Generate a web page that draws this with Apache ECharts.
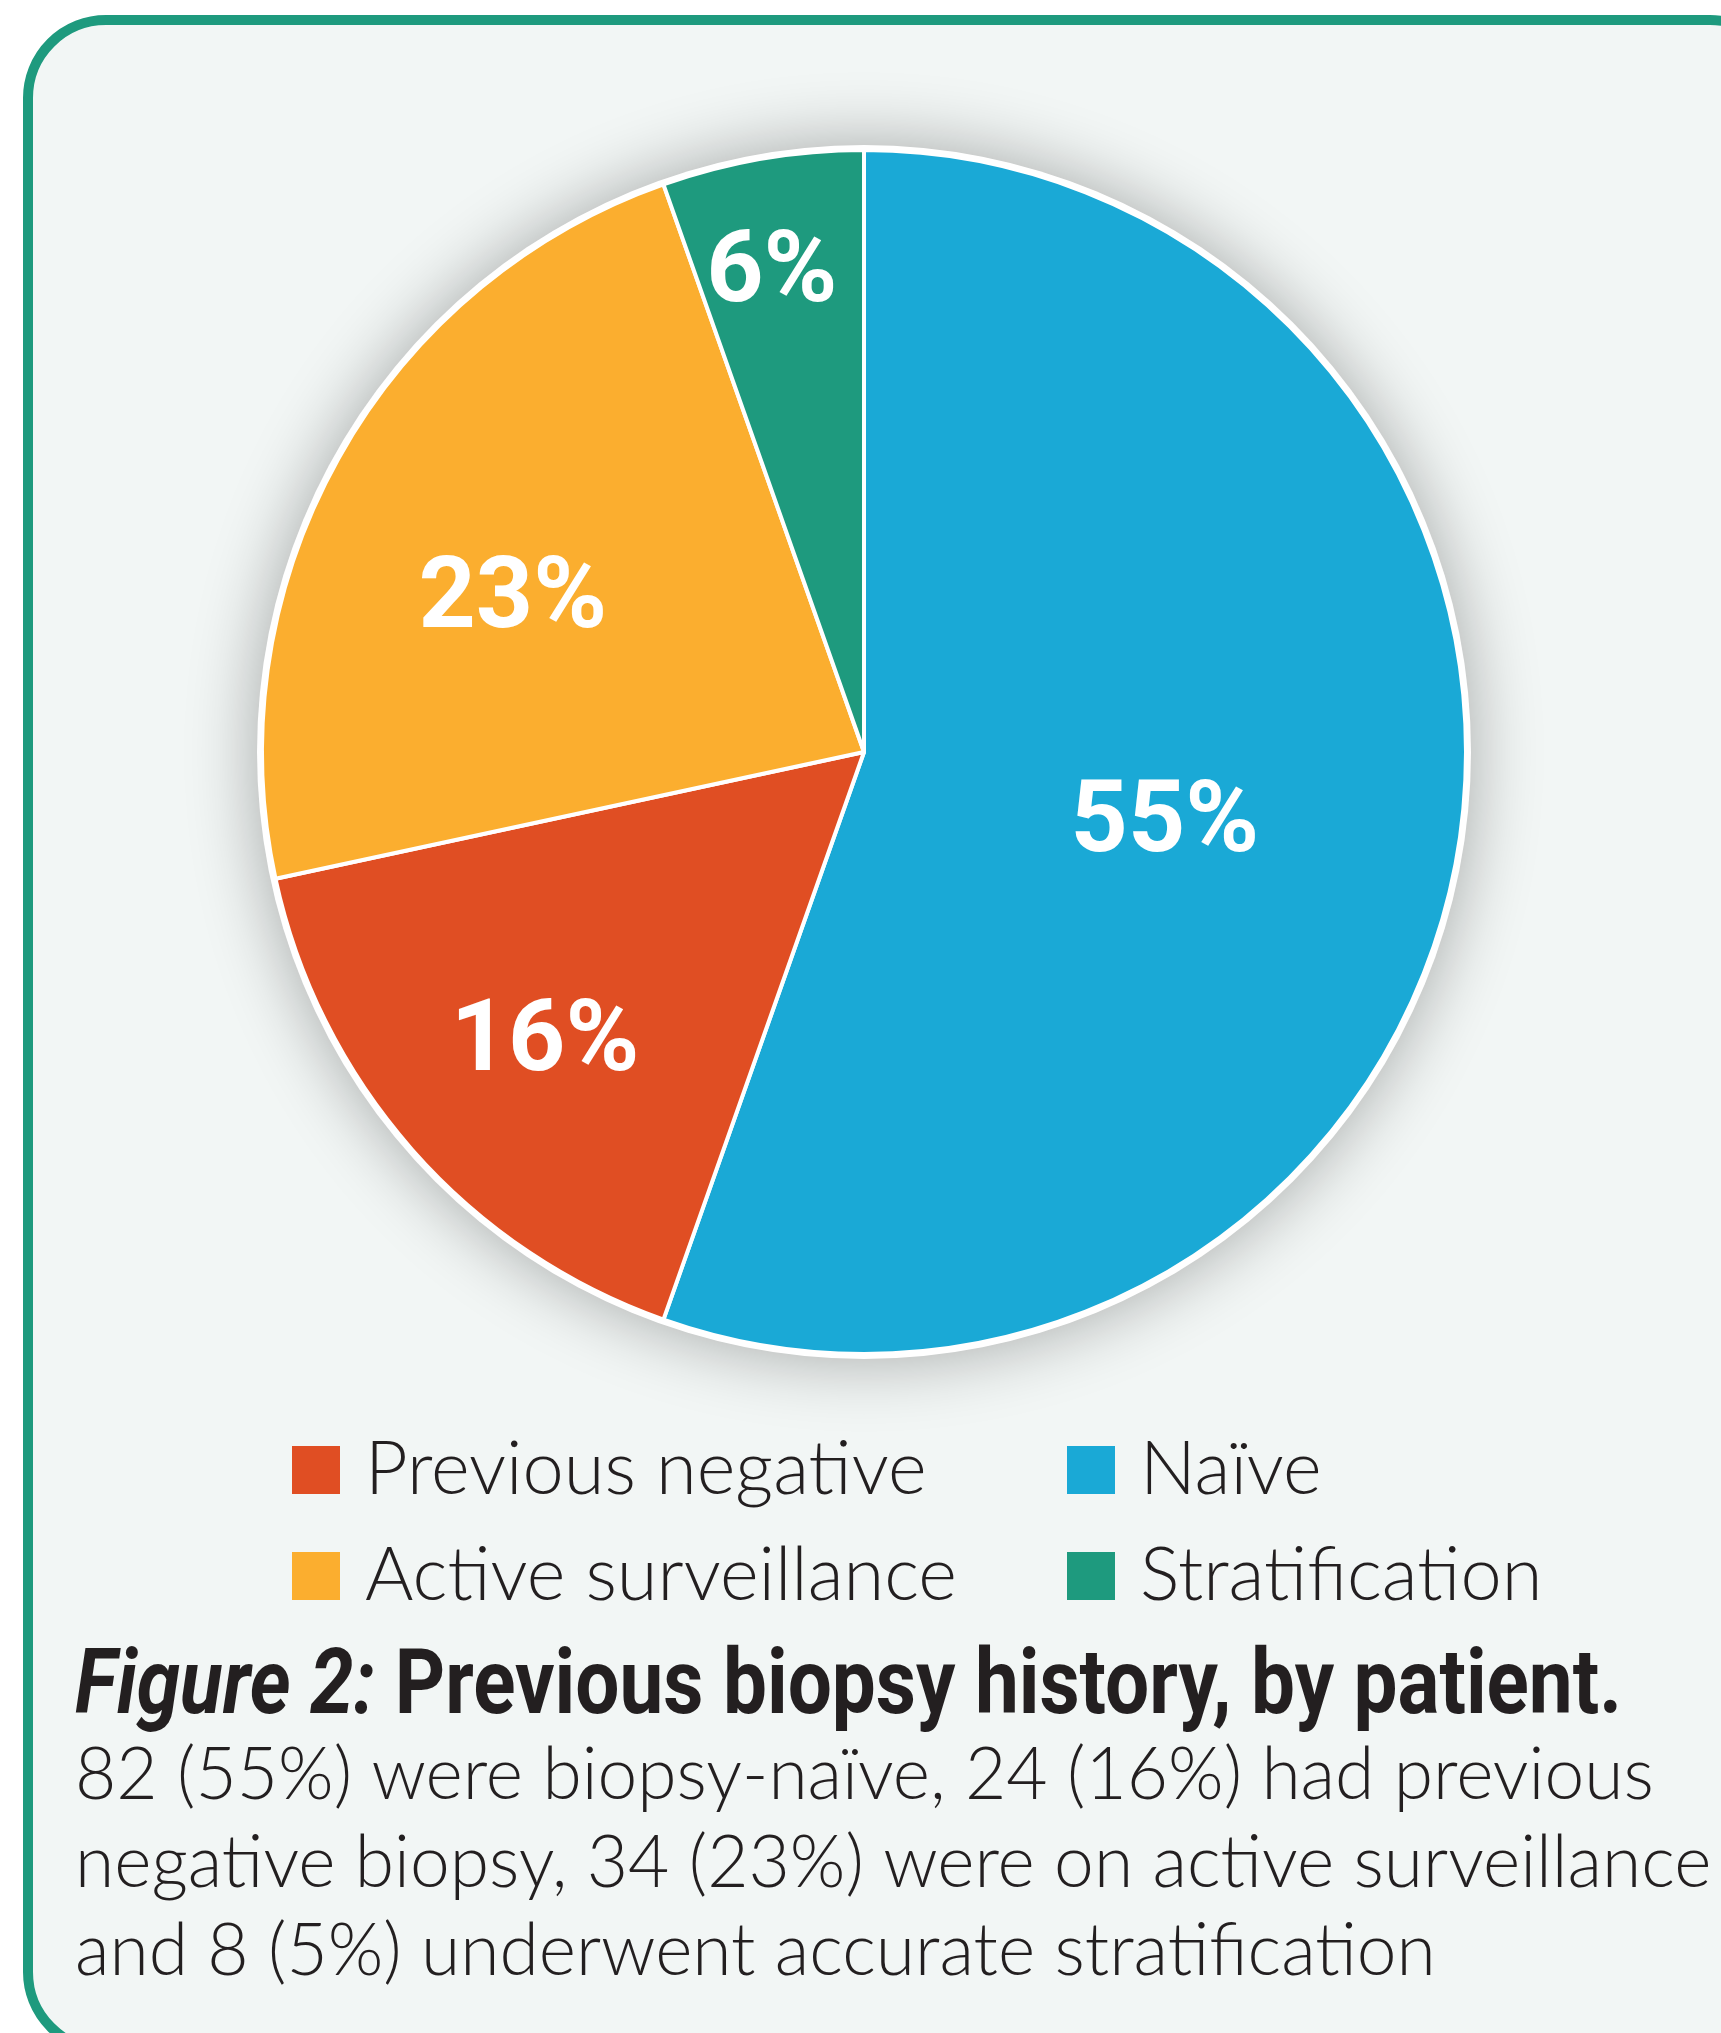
<!DOCTYPE html>
<html>
<head>
<meta charset="utf-8">
<script src="https://cdn.jsdelivr.net/npm/echarts@6/dist/echarts.min.js"></script>
<style>
  html, body { margin: 0; padding: 0; background: #ffffff; }
  #chart { width: 1721px; height: 2033px; }
</style>
</head>
<body>
<div id="chart"></div>
<script>
// slices, clockwise from 12 o'clock
const categories = ['Naïve', 'Previous negative', 'Active surveillance', 'Stratification']
const patientCounts = [82, 24, 34, 8]
const sliceLabels = ['55%', '16%', '23%', '6%']
const sliceColors = ['#1AA9D6', '#E04E23', '#FBAE2F', '#1E9A7E']

// legend is laid out as two columns
const legendLeftColumn = ['Previous negative', 'Active surveillance']
const legendRightColumn = ['Naïve', 'Stratification']

const titleItalic = 'Figure 2:'
const titleBold = 'Previous biopsy history, by patient.'
const captionLines = [
  '82 (55%) were biopsy-naïve, 24 (16%) had previous',
  'negative biopsy, 34 (23%) were on active surveillance',
  'and 8 (5%) underwent accurate stratification'
]

const CX = 864
const CY = 752
const R = 602
// where each label sits: fraction of radius, and degrees off the slice's middle
const labelRadius = [0.511, 0.708, 0.641, 0.822]
const labelAngleShift = [2.3, -0.2, -4.7, -1.0]

const total = patientCounts.reduce((a, b) => a + b, 0)
const midAngles = []
let acc = 0
patientCounts.forEach(v => {
  midAngles.push((acc + v / 2) / total * Math.PI * 2)
  acc += v
})

const chart = echarts.init(document.getElementById('chart'))

const legendText = {
  fontFamily: 'Lato',
  fontWeight: 300,
  fontSize: 74,
  color: '#231F20',
  padding: [0, 0, 0, 20]
}

const option = {
  animation: false,
  color: sliceColors,
  graphic: [
    {
      type: 'rect',
      z: -10,
      shape: { x: 28, y: 20, width: 1760, height: 2030, r: 78 },
      style: { fill: '#F2F6F5', stroke: '#1E9A7E', lineWidth: 10 }
    },
    {
      type: 'text',
      x: 75,
      y: 1690,
      scaleX: 0.86,
      style: {
        text: '{it|' + titleItalic + '} ' + titleBold,
        font: 'bold 91px Roboto',
        fill: '#231F20',
        verticalAlign: 'middle',
        rich: {
          it: { fontStyle: 'italic', fontWeight: 'bold', fontSize: 91, fontFamily: 'Roboto', fill: '#231F20' }
        }
      }
    },
    {
      type: 'text',
      x: 75,
      y: 1732,
      scaleX: 0.99,
      style: {
        text: captionLines.join('\n'),
        font: '300 72px Lato',
        lineHeight: 88,
        fill: '#231F20',
        verticalAlign: 'top'
      }
    }
  ],
  legend: [
    {
      orient: 'vertical',
      left: 292,
      top: 1433,
      padding: 0,
      itemWidth: 48,
      itemHeight: 48,
      itemGap: 32,
      icon: 'rect',
      itemStyle: { borderWidth: 0 },
      selectedMode: false,
      data: legendLeftColumn,
      textStyle: legendText
    },
    {
      orient: 'vertical',
      left: 1067,
      top: 1433,
      padding: 0,
      itemWidth: 48,
      itemHeight: 48,
      itemGap: 32,
      icon: 'rect',
      itemStyle: { borderWidth: 0 },
      selectedMode: false,
      data: legendRightColumn,
      textStyle: legendText
    }
  ],
  series: [
    {
      // white rim + soft drop shadow behind the pie
      type: 'pie',
      silent: true,
      center: [CX, CY],
      radius: R + 5,
      z: 1,
      label: { show: false },
      labelLine: { show: false },
      itemStyle: {
        color: '#ffffff',
        shadowBlur: 70,
        shadowColor: 'rgba(0, 0, 0, 0.32)'
      },
      data: [{ value: total, name: '' }]
    },
    {
      type: 'pie',
      center: [CX, CY],
      radius: R,
      startAngle: 90,
      clockwise: true,
      z: 2,
      itemStyle: { borderColor: '#ffffff', borderWidth: 4 },
      label: {
        show: true,
        position: 'inside',
        formatter: p => sliceLabels[p.dataIndex],
        color: '#ffffff',
        fontFamily: 'Roboto',
        fontWeight: 'bold',
        fontSize: 100
      },
      labelLayout: p => {
        const i = p.dataIndex
        const a = midAngles[i] + labelAngleShift[i] * Math.PI / 180
        const r = R * labelRadius[i]
        return {
          x: CX + r * Math.sin(a),
          // +10: digits sit a little above the text box middle
          y: CY - r * Math.cos(a) + 10,
          align: 'center',
          verticalAlign: 'middle'
        }
      },
      emphasis: { disabled: true },
      data: categories.map((name, i) => ({ name, value: patientCounts[i] }))
    }
  ]
}

chart.setOption(option)
</script>
</body>
</html>
